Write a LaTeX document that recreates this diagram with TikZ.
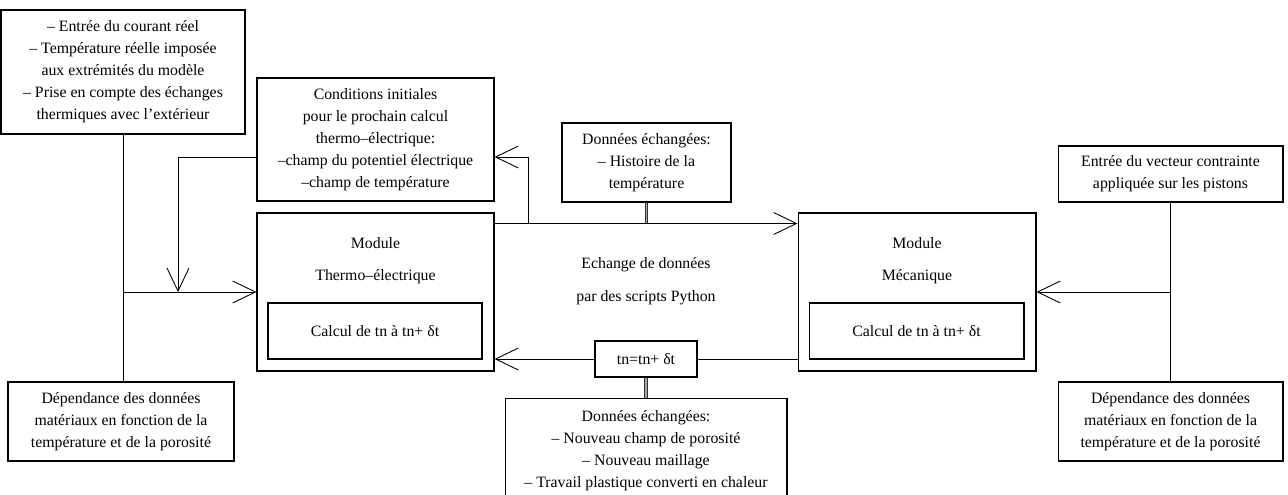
\documentclass[tikz,border=0pt]{standalone}
\usepackage{fontspec}
\setmainfont{Liberation Serif}
\usetikzlibrary{arrows.meta,calc}

\begin{document}
\begin{tikzpicture}[
    x=0.02cm, y=-0.02cm,
    box/.style={draw, line width=0.6pt, align=center, inner sep=0pt, font=\fontsize{9}{12.5}\selectfont},
    txt/.style={align=center, inner sep=0pt, font=\fontsize{9}{12.5}\selectfont},
    arr/.style={-{Straight Barb[length=13pt, width=12.5pt]}, line width=0.5pt},
    dbl/.style={line width=0.5pt, draw=black!80, double=gray!70, double distance=1pt}
]
\useasboundingbox (0,0) rectangle (1288,494);

\node[box, minimum width=4.88cm, minimum height=2.48cm] (inp) at (123,72) {-- Entrée du courant réel\\-- Température réelle imposée\\aux extrémités du modèle\\-- Prise en compte des échanges\\thermiques avec l’extérieur};
\node[box, minimum width=4.52cm, minimum height=1.58cm] (depL) at (121,421.5) {Dépendance des données\\matériaux en fonction de la\\température et de la porosité};
\node[box, minimum width=4.74cm, minimum height=2.46cm] (cond) at (375.5,139.5) {Conditions initiales\\pour le prochain calcul\\thermo--électrique:\\--champ du potentiel électrique\\--champ de température};

\node[box, minimum width=4.74cm, minimum height=3.16cm] (thermo) at (375.5,292) {};
\node[txt] (thermoA) at (375.5,243) {Module};
\node[txt] (thermoB) at (375.5,277) {Thermo--électrique};
\node[box, minimum width=4.28cm, minimum height=1.12cm] (thermoC) at (375,331) {Calcul de tn à tn+ δt};

\node[box, minimum width=3.38cm, minimum height=1.58cm] (donA) at (646.5,162.5) {Données échangées:\\-- Histoire de la\\température};
\node[txt] (echA) at (646,265) {Echange de données};
\node[txt] (echB) at (646,298) {par des scripts Python};
\node[box, minimum width=2.04cm, minimum height=0.72cm] (tn) at (646,359) {tn=tn+ δt};
\node[box, minimum width=5.64cm, minimum height=2.08cm, anchor=north] (donB) at (646,398) {Données échangées:\\-- Nouveau champ de porosité\\-- Nouveau maillage\\-- Travail plastique converti en chaleur};

\node[box, minimum width=4.76cm, minimum height=3.16cm] (meca) at (917,292) {};
\node[txt] (mecaA) at (917,243) {Module};
\node[txt] (mecaB) at (917,277) {Mécanique};
\node[box, minimum width=4.3cm, minimum height=1.12cm] (mecaC) at (916.5,331) {Calcul de tn à tn+ δt};

\node[box, minimum width=4.5cm, minimum height=1.12cm] (vec) at (1170.5,174) {Entrée du vecteur contrainte\\appliquée sur les pistons};
\node[box, minimum width=4.5cm, minimum height=1.58cm] (depR) at (1170.5,421.5) {Dépendance des données\\matériaux en fonction de la\\température et de la porosité};

\coordinate (xa) at ($(thermo.north east)+(0,11)$);
\coordinate (xb) at ($(meca.north west)+(0,11)$);
\coordinate (ca) at ($(cond.west)+(0,17.5)$);
\coordinate (cb) at ($(cond.east)+(0,17.5)$);

\draw[line width=0.5pt] (inp.south) -- (inp.south |- depL.north);
\draw[arr] (inp.south |- thermo.west) -- (thermo.west);
\draw[arr] (ca) -| ($(inp.south |- thermo.west)+(55,0)$);

\draw[arr] (xa) -- (xb);
\draw[arr] ($(xa)+(34,0)$) |- (cb);
\draw[dbl] (donA.south) -- (donA.south |- xa);

\draw[arr] (tn.west) -- (tn.west -| thermo.east);
\draw[line width=0.5pt] (tn.east) -- (tn.east -| meca.west);
\draw[dbl] (tn.south) -- (donB.north);

\draw[line width=0.5pt] (vec.south) -- (vec.south |- depR.north);
\draw[arr] (vec.south |- meca.east) -- (meca.east);
\end{tikzpicture}
\end{document}
